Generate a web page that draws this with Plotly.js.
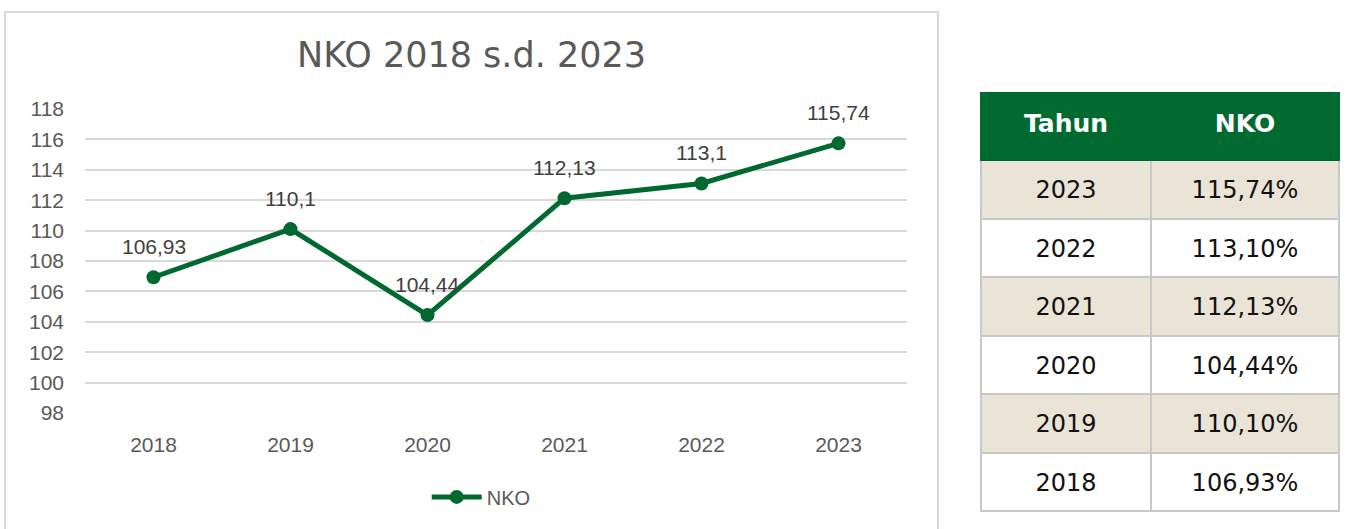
<!DOCTYPE html>
<html><head><meta charset="utf-8">
<script src="https://cdn.plot.ly/plotly-3.0.1.min.js"></script>
<style>
html,body{margin:0;padding:0;background:#fff;overflow:hidden;width:1346px;height:529px;}
#chart{position:absolute;left:4px;top:11px;width:931px;height:520px;border:2px solid #d9d9d9;}
#table{position:absolute;left:980px;top:92px;width:360px;height:424px;}
#table .cell-text, #table g.cell-text-holder > text{transform:translateY(12px);}
</style></head><body>
<div id="chart"></div><div id="table"></div>
<script>
const years = ['2018', '2019', '2020', '2021', '2022', '2023'];
const nko = [106.93, 110.1, 104.44, 112.13, 113.1, 115.74];
const yTicks = [98, 100, 102, 104, 106, 108, 110, 112, 114, 116, 118];
const seriesName = 'NKO';
const chartTitle = 'NKO 2018 s.d. 2023';
const tableHeader = ['Tahun', 'NKO'];

const green = '#00692f';
const fmt = v => String(v).replace('.', ',');

const trace = {
  type: 'scatter', mode: 'lines+markers', name: seriesName,
  x: years, y: nko,
  line: {color: green, width: 5},
  marker: {color: green, size: 14},
  hoverinfo: 'skip'
};

const annotations = nko.map((v, i) => ({
  x: i, y: v, xref: 'x', yref: 'y',
  text: fmt(v), showarrow: false,
  xanchor: 'center', yanchor: 'middle', yshift: 31,
  font: {family: 'Liberation Sans, Arial, sans-serif', size: 21, color: '#404040'}
}));

const layout = {
  width: 931, height: 520,
  margin: {l: 79, r: 30, t: 96, b: 120},
  paper_bgcolor: '#fff', plot_bgcolor: '#fff',
  separators: ',.',
  showlegend: true,
  title: {
    text: chartTitle, x: 0.5, xanchor: 'center', y: 1 - 42 / 520, yanchor: 'middle',
    font: {family: 'DejaVu Sans, sans-serif', size: 35, color: '#595959'}
  },
  xaxis: {
    type: 'category', range: [-0.5, 5.5], showgrid: false, zeroline: false,
    showline: false, ticks: '', ticklabelstandoff: 17,
    tickfont: {family: 'Liberation Sans, Arial, sans-serif', size: 21, color: '#595959'},
    fixedrange: true
  },
  yaxis: {
    range: [98, 118], tickvals: yTicks, ticktext: yTicks.map(String),
    showgrid: true, gridcolor: '#d9d9d9', gridwidth: 2, zeroline: false,
    showline: false, ticks: '', ticklabelstandoff: 20,
    tickfont: {family: 'Liberation Sans, Arial, sans-serif', size: 21, color: '#595959'},
    fixedrange: true
  },
  legend: {
    orientation: 'h', x: 0.482, xanchor: 'center', y: -0.276, yanchor: 'middle',
    itemwidth: 50,
    font: {family: 'Liberation Sans, Arial, sans-serif', size: 20, color: '#595959'},
    bgcolor: 'rgba(0,0,0,0)'
  },
  annotations: annotations
};

Plotly.newPlot('chart', [trace], layout, {displayModeBar: false, staticPlot: true});

// Table
const tYears = years.slice().reverse();
const tVals = nko.slice().reverse().map(v => v.toFixed(2).replace('.', ',') + '%');
const rowColors = tYears.map((_, i) => i % 2 === 0 ? '#eae4d7' : '#ffffff');

const table = {
  type: 'table',
  columnwidth: [170, 188],
  header: {
    values: tableHeader,
    fill: {color: '#006a31'},
    line: {color: '#006a31', width: 2},
    align: 'center', height: 67,
    font: {family: 'DejaVu Sans, sans-serif', size: 25, color: '#ffffff', weight: 700}
  },
  cells: {
    values: [tYears, tVals],
    fill: {color: [rowColors, rowColors]},
    line: {color: '#c8c8c8', width: 2},
    align: 'center', height: 58.5,
    font: {family: 'DejaVu Sans, sans-serif', size: 24, color: '#111111'}
  },
  domain: {x: [0, 1], y: [0, 1]}
};

Plotly.newPlot('table', [table], {
  width: 360, height: 424, margin: {l: 1, r: 1, t: 1, b: 1},
  paper_bgcolor: 'rgba(0,0,0,0)'
}, {displayModeBar: false, staticPlot: true});
</script>
</body></html>
